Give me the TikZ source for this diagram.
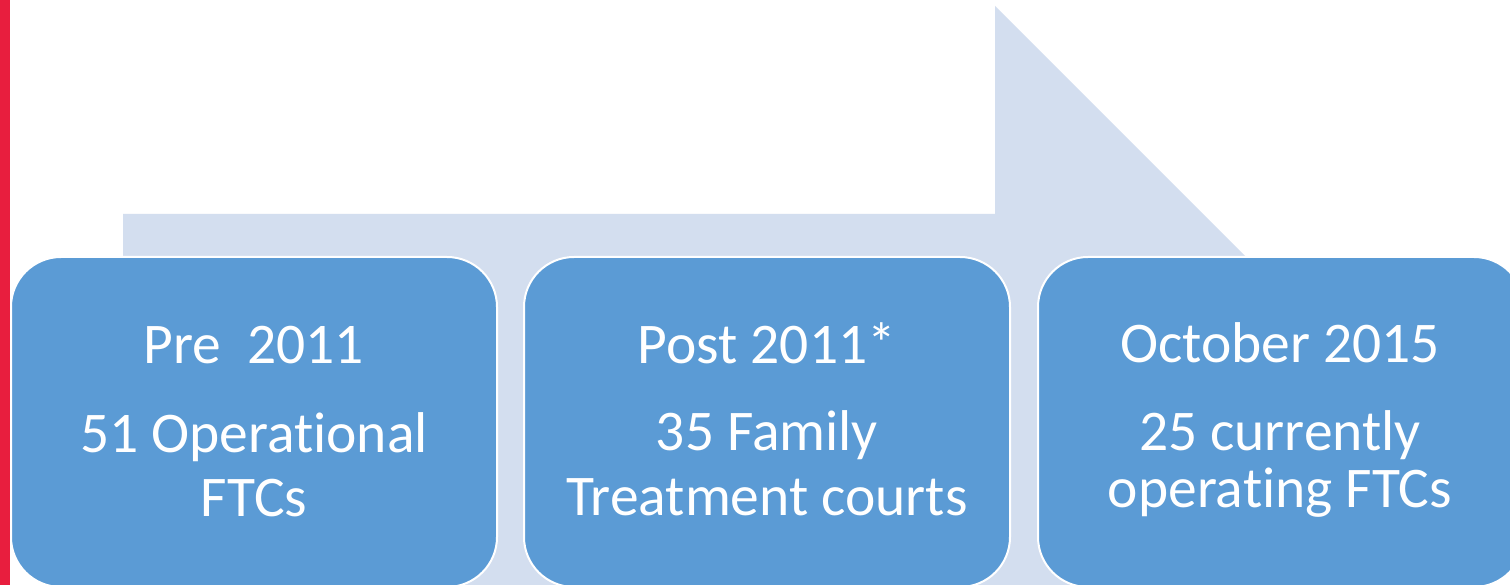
\documentclass[tikz,border=0pt]{standalone}
\usepackage{fontspec}
\setmainfont{Carlito}[Ligatures=NoCommon]
\definecolor{redbar}{RGB}{232,30,62}
\definecolor{arrowbg}{RGB}{211,222,239}
\definecolor{boxblue}{RGB}{91,155,213}
\begin{document}
\begin{tikzpicture}[x=1pt,y=-1pt,
  stagebox/.style={draw=white, line width=2pt, fill=boxblue, rounded corners=50pt,
    minimum width=486pt, minimum height=330pt, inner sep=0pt, outer sep=0pt},
  stagetext/.style={text=white, font=\fontsize{57.5}{64}\selectfont, anchor=base, inner sep=0pt}]
\useasboundingbox (0,0) rectangle (1510,585);
\clip (0,0) rectangle (1510,585);
\fill[white] (0,0) rectangle (1510,585);
\fill[redbar] (0,0) rectangle (10,585);
\fill[arrowbg] (123,214) -- (995,214) -- (995,6) -- (1400,411) -- (995,816) -- (995,608) -- (123,608) -- cycle;
\node[stagebox] (b1) at (254,422) {};
\node[stagebox] (b2) at (767,422) {};
\node[stagebox] (b3) at (1281,422) {};
\node[stagetext] (t1a) at (254,363) {Pre\ \ 2011};
\node[stagetext] (t1b) at (254,452) {51 Operational};
\node[stagetext] (t1c) at (254,516) {FTCs};
\node[stagetext] (t2a) at (767,363) {Post 2011*};
\node[stagetext] (t2b) at (767,450) {35 Family};
\node[stagetext] (t2c) at (767,515) {Treatment courts};
\node[stagetext] (t3a) at (1280,362) {October 2015};
\node[stagetext] (t3b) at (1280,450) {25 currently};
\node[stagetext] (t3c) at (1280,507) {operating FTCs};
\end{tikzpicture}
\end{document}
